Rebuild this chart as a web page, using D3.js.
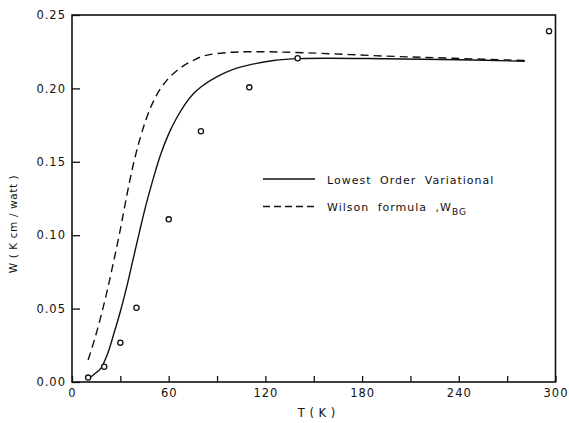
<!DOCTYPE html>
<html>
<head>
<meta charset="utf-8">
<script src="https://cdn.jsdelivr.net/npm/d3@7"></script>
<style>
  body { margin: 0; background: #fff; }
  svg text { font-family: "DejaVu Sans", sans-serif; fill: #111; }
</style>
</head>
<body>
<svg id="chart" width="569" height="423"></svg>
<script>
// ---- data ----
const xTicks = [0, 30, 60, 90, 120, 150, 180, 210, 240, 270, 300];
const xTickLabels = [0, 60, 120, 180, 240, 300];
const yTicks = [0, 0.05, 0.10, 0.15, 0.20, 0.25];

// Lowest Order Variational (solid)
const solidT = [10, 14, 18, 22, 26, 30, 34, 38, 42, 46, 50, 55, 60, 65, 70, 75, 80, 90, 100, 112, 125, 141, 195, 240, 281];
const solidW = [0.002, 0.0055, 0.0095, 0.019, 0.033, 0.048, 0.065, 0.084, 0.103, 0.121, 0.137, 0.155, 0.169, 0.180, 0.189, 0.196, 0.201, 0.208, 0.213, 0.2165, 0.219, 0.2203, 0.2202, 0.2195, 0.2185];

// Wilson formula W_BG (dashed)
const dashT = [10, 14, 18, 22, 26, 30, 34, 38, 42, 46, 50, 55, 60, 65, 70, 75, 82, 95, 112, 144, 195, 237, 281];
const dashW = [0.015, 0.029, 0.045, 0.063, 0.083, 0.104, 0.127, 0.148, 0.165, 0.179, 0.190, 0.200, 0.207, 0.212, 0.216, 0.219, 0.2222, 0.2243, 0.225, 0.2243, 0.222, 0.2205, 0.219];

// Experimental points (open circles)
const ptT = [10, 20, 30, 40, 60, 80, 110, 140, 296];
const ptW = [0.003, 0.0104, 0.0268, 0.0506, 0.1108, 0.1708, 0.2007, 0.2205, 0.239];

// ---- layout ----
const svg = d3.select("#chart");
const x = d3.scaleLinear().domain([0, 300]).range([72, 555.5]);
const y = d3.scaleLinear().domain([0, 0.25]).range([382, 15]);
const ink = "#111";

// x axis (inward ticks)
const xAxis = svg.append("g")
  .attr("transform", `translate(0,${y(0)})`)
  .call(d3.axisBottom(x).tickValues(xTicks).tickSizeInner(-6).tickSizeOuter(0).tickPadding(7)
    .tickFormat(d => xTickLabels.includes(d) ? String(d) : ""));
xAxis.select(".domain").remove();
xAxis.selectAll("line").attr("stroke", ink).attr("stroke-width", 1.3);
xAxis.selectAll("text").attr("font-size", 11.5).attr("letter-spacing", 1).style("font-family", '"DejaVu Sans", sans-serif').attr("fill", ink);

// y axis (inward ticks)
const yAxis = svg.append("g")
  .attr("transform", `translate(${x(0)},0)`)
  .call(d3.axisLeft(y).tickValues(yTicks).tickSizeInner(-8).tickSizeOuter(0).tickPadding(6)
    .tickFormat(d3.format(".2f")));
yAxis.select(".domain").remove();
yAxis.selectAll("line").attr("stroke", ink).attr("stroke-width", 1.3);
yAxis.selectAll("text").attr("font-size", 11.5).attr("letter-spacing", 1).style("font-family", '"DejaVu Sans", sans-serif').attr("fill", ink);

// frame
svg.append("rect")
  .attr("x", x(0)).attr("y", y(0.25))
  .attr("width", x(300) - x(0)).attr("height", y(0) - y(0.25))
  .attr("fill", "none").attr("stroke", ink).attr("stroke-width", 1.6);

// curves
const line = d3.line().x(d => x(d[0])).y(d => y(d[1])).curve(d3.curveCatmullRom.alpha(0.5));
svg.append("path")
  .attr("d", line(solidT.map((t, i) => [t, solidW[i]])))
  .attr("fill", "none").attr("stroke", ink).attr("stroke-width", 1.4);
svg.append("path")
  .attr("d", line(dashT.map((t, i) => [t, dashW[i]])))
  .attr("fill", "none").attr("stroke", ink).attr("stroke-width", 1.4)
  .attr("stroke-dasharray", "8,5");

// points
svg.append("g").selectAll("circle")
  .data(ptT.map((t, i) => [t, ptW[i]]))
  .join("circle")
  .attr("cx", d => x(d[0])).attr("cy", d => y(d[1]))
  .attr("r", 2.6).attr("fill", "#fff").attr("stroke", ink).attr("stroke-width", 1.3);

// legend
svg.append("line").attr("x1", 263).attr("x2", 315).attr("y1", 179).attr("y2", 179)
  .attr("stroke", ink).attr("stroke-width", 1.4);
svg.append("text").attr("x", 327).attr("y", 183.5).attr("font-size", 11).attr("letter-spacing", 1)
  .attr("word-spacing", 4).text("Lowest Order Variational");
svg.append("line").attr("x1", 263).attr("x2", 315).attr("y1", 206.5).attr("y2", 206.5)
  .attr("stroke", ink).attr("stroke-width", 1.4).attr("stroke-dasharray", "7,4");
const lt = svg.append("text").attr("x", 327).attr("y", 211).attr("font-size", 11).attr("letter-spacing", 1)
  .attr("word-spacing", 4);
lt.append("tspan").text("Wilson formula ,W");
lt.append("tspan").attr("dy", 4).attr("font-size", 9).text("BG");

// axis titles
svg.append("text").attr("x", (x(0) + x(300)) / 2 + 3).attr("y", 417).attr("text-anchor", "middle")
  .attr("font-size", 11.5).attr("letter-spacing", 0.5).text("T ( K )");
svg.append("text").attr("transform", "translate(17,224) rotate(-90)")
  .attr("text-anchor", "middle").attr("font-size", 10.5).attr("letter-spacing", 0.6)
  .text("W ( K cm / watt )");
</script>
</body>
</html>
